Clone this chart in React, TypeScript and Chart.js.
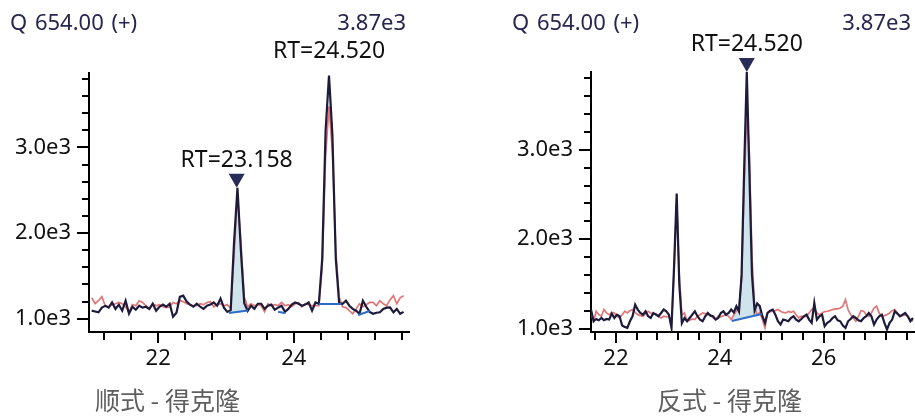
import { useEffect, useRef } from "react";
import { Chart, registerables } from "chart.js";

Chart.register(...registerables);

// ---------- data ----------
const titleText = "Q 654.00 (+)";
const maxLabel = "3.87e3";
const captions = ["顺式 - 得克隆", "反式 - 得克隆"];
const sampleStep = 0.05;
const yMajorTicks = [1000, 2000, 3000];
const leftXTicks = [22, 24];
const rightXTicks = [22, 24, 26];

const leftStart = 21.02;
const leftDark = [
  1094, 1085, 1075, 1130, 1150, 1130, 1190, 1115, 1165, 1094,
  1210, 1060, 1140, 1105, 1152, 1130, 1140, 1115, 1175, 1094,
  1140, 1165, 1140, 1175, 1023, 1070, 1255, 1269, 1200, 1165,
  1140, 1175, 1140, 1115, 1152, 1165, 1190, 1152, 1235, 1130,
  1080, 1100, 1900, 2530, 1800, 1180, 1090, 1152, 1115, 1175,
  1175, 1115, 1152, 1165, 1105, 1130, 1152, 1080, 1115, 1165,
  1190, 1175, 1152, 1165, 1190, 1094, 1190, 1175, 1700, 3200,
  3840, 3150, 1700, 1180, 1175, 1210, 1152, 1115, 1094, 1058,
  1210, 1140, 1080, 1058, 1070, 1075, 1115, 1130, 1132, 1075,
  1115, 1058, 1080,
];
const leftRed = [
  1245, 1175, 1210, 1257, 1152, 1140, 1165, 1175, 1190, 1175,
  1140, 1075, 1165, 1152, 1210, 1190, 1152, 1115, 1175, 1152,
  1165, 1140, 1130, 1140, 1190, 1175, 1210, 1200, 1175, 1165,
  1152, 1152, 1175, 1165, 1190, 1200, 1140, 1165, 1175, 1152,
  1165, 1120, 1750, 2450, 1900, 1250, 1140, 1175, 1152, 1165,
  1152, 1080, 1175, 1152, 1165, 1152, 1190, 1152, 1165, 1140,
  1175, 1190, 1140, 1175, 1165, 1152, 1152, 1152, 1600, 2900,
  3480, 2950, 1800, 1250, 1140, 1130, 1094, 1058, 1115, 1175,
  1140, 1165, 1190, 1190, 1152, 1210, 1175, 1152, 1220, 1269,
  1175, 1245, 1269,
];
// [t0, v0, t1, v1]; the first one is shaded
const leftBaselines = [
  [23.045, 1067, 23.325, 1096],
  [23.77, 1082, 23.88, 1063],
  [24.37, 1172, 24.7, 1172],
  [24.95, 1044, 25.12, 1090],
];
const leftPeaks = [
  { rt: 23.158, marked: true },
  { rt: 24.52, marked: false },
];

const rightStart = 21.52;
const rightDark = [
  1212, 1081, 1107, 1092, 1118, 1092, 1107, 1100, 1167, 1118,
  1155, 1137, 1033, 1018, 1008, 1081, 1137, 1267, 1212, 1174,
  1155, 1193, 1137, 1118, 1174, 1155, 1137, 1174, 1212, 1193,
  1155, 1008, 1700, 2510, 1500, 1060, 1118, 1081, 1118, 1155,
  1193, 1137, 1100, 1081, 1137, 1174, 1144, 1137, 1100, 1118,
  1174, 1193, 1155, 1174, 1212, 1180, 1250, 1190, 1600, 2800,
  3870, 2750, 1600, 1200, 1280, 1250, 1137, 1063, 1174, 1200,
  1212, 1155, 1081, 1044, 1100, 1092, 1081, 1118, 1137, 1100,
  1081, 1107, 1137, 1155, 1100, 1063, 1285, 1100, 1137, 1155,
  1026, 1063, 1081, 1118, 1137, 1092, 1081, 1033, 1008, 1081,
  1107, 1137, 1118, 1092, 1081, 1118, 1137, 1174, 1137, 1044,
  1100, 1137, 1155, 1063, 989, 1063, 1100, 1193, 1167, 1137,
  1155, 1174, 1137, 1081, 1118,
];
const rightRed = [
  1174, 1081, 1193, 1155, 1137, 1212, 1174, 1155, 1180, 1174,
  1137, 1118, 1155, 1193, 1174, 1200, 1212, 1180, 1155, 1144,
  1137, 1167, 1193, 1174, 1155, 1167, 1137, 1118, 1137, 1130,
  1137, 1050, 1650, 2420, 1600, 1150, 1174, 1081, 1092, 1107,
  1100, 1137, 1155, 1174, 1167, 1155, 1155, 1118, 1100, 1137,
  1130, 1144, 1155, 1137, 1100, 1150, 1200, 1250, 1550, 2600,
  3450, 2950, 1800, 1250, 1150, 1180, 1100, 1008, 1174, 1190,
  1193, 1200, 1212, 1193, 1180, 1174, 1190, 1180, 1193, 1155,
  1118, 1137, 1130, 1137, 1174, 1212, 1230, 1174, 1155, 1174,
  1190, 1193, 1200, 1212, 1220, 1220, 1230, 1250, 1322, 1212,
  1155, 1118, 1081, 1137, 1200, 1193, 1155, 1137, 1174, 1230,
  1250, 1174, 1137, 1144, 1155, 1174, 1200, 1212, 1174, 1137,
  1144, 1155, 1137, 1100, 1081,
];
const rightBaselines = [[24.23, 1084, 24.81, 1162]];
const rightPeaks = [{ rt: 24.52, marked: true }];

// ---------- styles ----------
const FONT = '"Noto Sans", "Open Sans", sans-serif';
const CJK = '"Noto Sans CJK SC", sans-serif';
const DARK = "#1d1b3b";
const RED = "#e27676";
const FILL = "#cfe5eb";
const BASE = "#2f6cc6";
const MARK = "#2a2c58";
const H = 418;

type PanelProps = {
  dark: number[];
  red: number[];
  start: number;
  xMin: number;
  xMax: number;
  yMin: number;
  yMax: number;
  xTicks: number[];
  baselines: number[][];
  peaks: { rt: number; marked: boolean }[];
  caption: string;
  captionX: number;
  width: number;
  plotLeft: number;
  plotRight: number;
  plotTop: number;
  plotBottom: number;
  left: number;
};

function Panel(p: PanelProps) {
  const ref = useRef<HTMLCanvasElement | null>(null);
  useEffect(() => {
    const canvas = ref.current;
    if (!canvas) return;
    const times = p.dark.map((_, i) => +(p.start + i * sampleStep).toFixed(3));
    const darkPts = p.dark.map((v, i) => ({ x: times[i], y: v }));
    const redPts = p.red.map((v, i) => ({ x: times[i], y: v }));
    const fb = p.baselines[0];
    const fillPts = [
      { x: fb[0], y: fb[1] },
      ...darkPts.filter((d) => d.x > fb[0] && d.x < fb[2]),
      { x: fb[2], y: fb[3] },
    ];
    const datasets: any[] = [
      {
        data: fillPts,
        borderWidth: 0,
        pointRadius: 0,
        backgroundColor: FILL,
        fill: 1,
        order: 5,
      },
      ...p.baselines.map((b) => ({
        data: [
          { x: b[0], y: b[1] },
          { x: b[2], y: b[3] },
        ],
        borderColor: BASE,
        borderWidth: 2,
        pointRadius: 0,
        fill: false,
        order: 1,
      })),
      {
        data: darkPts,
        borderColor: DARK,
        borderWidth: 2.2,
        pointRadius: 0,
        fill: false,
        order: 2,
      },
      {
        data: redPts,
        borderColor: RED,
        borderWidth: 1.7,
        pointRadius: 0,
        fill: false,
        order: 3,
      },
    ];

    const decor = {
      id: "decor",
      afterDraw(chart: any) {
        const ctx = chart.ctx;
        const area = chart.chartArea;
        const xs = chart.scales.x;
        const ys = chart.scales.y;
        ctx.save();
        ctx.strokeStyle = "#000";
        ctx.lineWidth = 2;
        // y ticks: major every 1000, minor every 200
        for (let k = Math.ceil(p.yMin / 200); k * 200 <= p.yMax; k++) {
          const y = Math.round(ys.getPixelForValue(k * 200));
          const len = k % 5 === 0 ? 11 : 6;
          ctx.beginPath();
          ctx.moveTo(area.left - 1, y);
          ctx.lineTo(area.left - 1 - len, y);
          ctx.stroke();
        }
        // x ticks: major every 2, minor every 0.4
        for (let k = Math.ceil(p.xMin / 0.4 - 1e-6); k * 0.4 <= p.xMax + 1e-6; k++) {
          const x = Math.round(xs.getPixelForValue(k * 0.4));
          const len = k % 5 === 0 ? 10 : 7;
          ctx.beginPath();
          ctx.moveTo(x, area.bottom + 1);
          ctx.lineTo(x, area.bottom + 1 + len);
          ctx.stroke();
        }
        // header texts
        ctx.font = `22px ${FONT}`;
        ctx.fillStyle = "#262650";
        ctx.textBaseline = "alphabetic";
        ctx.textAlign = "left";
        try {
          (ctx as any).wordSpacing = "2px";
        } catch (e) {}
        ctx.fillText(titleText, area.left - 79, 30);
        try {
          (ctx as any).wordSpacing = "0px";
        } catch (e) {}
        ctx.textAlign = "right";
        ctx.fillText(maxLabel, area.right - 3, 30);
        // caption
        ctx.font = `25px ${CJK}`;
        ctx.fillStyle = "#5f5f5f";
        ctx.textAlign = "left";
        ctx.fillText(p.caption, p.captionX, 410);
        // peak annotations
        for (const pk of p.peaks) {
          let apex = -Infinity;
          darkPts.forEach((d) => {
            if (Math.abs(d.x - pk.rt) < 0.1 && d.y > apex) apex = d.y;
          });
          const x = xs.getPixelForValue(pk.rt);
          const y = ys.getPixelForValue(apex);
          if (pk.marked) {
            ctx.fillStyle = MARK;
            ctx.beginPath();
            ctx.moveTo(x - 8, y - 14);
            ctx.lineTo(x + 8, y - 14);
            ctx.lineTo(x, y);
            ctx.closePath();
            ctx.fill();
          }
          ctx.font = `23px ${FONT}`;
          ctx.fillStyle = "#111";
          ctx.textAlign = "center";
          ctx.fillText("RT=" + pk.rt.toFixed(3), x, y - (pk.marked ? 21 : 18));
        }
        ctx.restore();
      },
    };

    const chart = new Chart(canvas, {
      type: "line",
      data: { datasets },
      options: {
        animation: false,
        responsive: false,
        devicePixelRatio: 1,
        layout: {
          padding: { left: 0, right: p.width - p.plotRight, top: p.plotTop, bottom: 0 },
        },
        plugins: {
          legend: { display: false },
          tooltip: { enabled: false },
        },
        elements: { point: { radius: 0 }, line: { tension: 0 } },
        scales: {
          x: {
            type: "linear",
            min: p.xMin,
            max: p.xMax,
            afterBuildTicks: (s: any) => {
              s.ticks = p.xTicks.map((v) => ({ value: v }));
            },
            afterFit: (s: any) => {
              s.height = H - p.plotBottom;
            },
            border: { display: true, color: "#000", width: 2 },
            grid: {
              display: true,
              drawOnChartArea: false,
              drawTicks: true,
              tickLength: 10,
              color: "rgba(0,0,0,0)",
            },
            ticks: {
              autoSkip: false,
              maxRotation: 0,
              padding: 4,
              color: "#111",
              font: { family: FONT, size: 22 },
              callback: (v: any) => String(v),
            },
          },
          y: {
            type: "linear",
            min: p.yMin,
            max: p.yMax,
            afterBuildTicks: (s: any) => {
              s.ticks = yMajorTicks.map((v) => ({ value: v }));
            },
            afterFit: (s: any) => {
              s.width = p.plotLeft;
            },
            border: { display: true, color: "#000", width: 2 },
            grid: {
              display: true,
              drawOnChartArea: false,
              drawTicks: true,
              tickLength: 11,
              color: "rgba(0,0,0,0)",
            },
            ticks: {
              autoSkip: false,
              padding: 7,
              color: "#111",
              font: { family: FONT, size: 22 },
              callback: (v: any) => (v / 1000).toFixed(1) + "e3",
            },
          },
        },
      } as any,
      plugins: [decor],
    });
    return () => chart.destroy();
  }, []);
  return (
    <canvas
      ref={ref}
      width={p.width}
      height={H}
      style={{ position: "absolute", left: p.left, top: 0, width: p.width, height: H }}
    />
  );
}

export default function App() {
  return (
    <div
      style={{
        position: "absolute",
        left: 0,
        top: 0,
        width: 915,
        height: H,
        background: "#fff",
        overflow: "hidden",
      }}
    >
      <Panel
        dark={leftDark}
        red={leftRed}
        start={leftStart}
        xMin={20.98}
        xMax={25.7}
        yMin={845}
        yMax={3870}
        xTicks={leftXTicks}
        baselines={leftBaselines}
        peaks={leftPeaks}
        caption={captions[0]}
        captionX={95}
        width={457}
        plotLeft={89}
        plotRight={409}
        plotTop={73}
        plotBottom={332}
        left={0}
      />
      <Panel
        dark={rightDark}
        red={rightRed}
        start={rightStart}
        xMin={21.52}
        xMax={27.74}
        yMin={961}
        yMax={3870}
        xTicks={rightXTicks}
        baselines={rightBaselines}
        peaks={rightPeaks}
        caption={captions[1]}
        captionX={200}
        width={458}
        plotLeft={134}
        plotRight={457}
        plotTop={72}
        plotBottom={332}
        left={457}
      />
    </div>
  );
}
